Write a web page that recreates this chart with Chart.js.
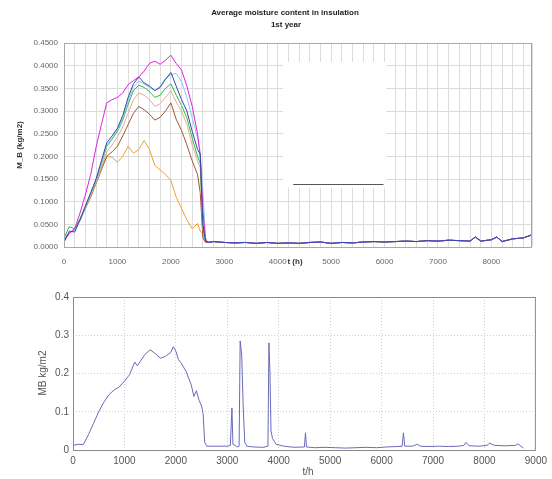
<!DOCTYPE html>
<html>
<head>
<meta charset="utf-8">
<script src="https://cdn.jsdelivr.net/npm/chart.js@4"></script>
<style>
  body { margin: 0; background: #fff; }
  #top { position: absolute; left: 0; top: 0; }
  #bottom { position: absolute; left: 0; top: 270px; }
</style>
</head>
<body>
<canvas id="top" width="552" height="270"></canvas>
<canvas id="bottom" width="552" height="209"></canvas>
<script>
// ---- top chart: hours of the wet period, then the dry tail
const riseHours = [0, 100, 200, 300, 400, 500, 600, 700, 800, 900, 1000, 1100, 1200, 1300, 1400, 1500,
  1600, 1700, 1800, 1900, 2000, 2100, 2200, 2300, 2400, 2500, 2550, 2600, 2650, 2700];

const magenta = [0.015, 0.03, 0.04, 0.075, 0.115, 0.16, 0.22, 0.27, 0.318, 0.325, 0.33, 0.34, 0.358, 0.367, 0.375, 0.388,
  0.405, 0.41, 0.403, 0.412, 0.423, 0.405, 0.39, 0.355, 0.31, 0.25, 0.2, 0.08, 0.015, 0.011];
const blue = [0.01, 0.035, 0.033, 0.06, 0.09, 0.12, 0.15, 0.19, 0.23, 0.245, 0.262, 0.29, 0.33, 0.36, 0.375, 0.362,
  0.355, 0.345, 0.352, 0.37, 0.385, 0.355, 0.325, 0.3, 0.255, 0.215, 0.205, 0.05, 0.012, 0.01];
const cyan = [0.012, 0.032, 0.036, 0.058, 0.088, 0.118, 0.148, 0.185, 0.225, 0.24, 0.258, 0.285, 0.322, 0.352, 0.366, 0.36,
  0.352, 0.345, 0.355, 0.372, 0.38, 0.383, 0.365, 0.33, 0.285, 0.24, 0.21, 0.12, 0.02, 0.01];
const green = [0.02, 0.045, 0.04, 0.062, 0.09, 0.118, 0.148, 0.183, 0.222, 0.238, 0.255, 0.28, 0.315, 0.345, 0.357, 0.352,
  0.343, 0.33, 0.335, 0.35, 0.36, 0.335, 0.312, 0.285, 0.24, 0.2, 0.185, 0.045, 0.012, 0.01];
const salmon = [0.015, 0.03, 0.04, 0.06, 0.087, 0.113, 0.142, 0.175, 0.21, 0.225, 0.243, 0.265, 0.295, 0.325, 0.34, 0.335,
  0.325, 0.31, 0.316, 0.33, 0.345, 0.32, 0.3, 0.27, 0.225, 0.19, 0.175, 0.04, 0.012, 0.01];
const brown = [0.015, 0.03, 0.04, 0.058, 0.085, 0.11, 0.14, 0.17, 0.2, 0.21, 0.222, 0.245, 0.27, 0.295, 0.31, 0.303,
  0.293, 0.28, 0.286, 0.3, 0.318, 0.282, 0.257, 0.225, 0.19, 0.16, 0.12, 0.02, 0.01, 0.01];
const orange = [0.022, 0.03, 0.042, 0.06, 0.088, 0.115, 0.145, 0.175, 0.2, 0.198, 0.187, 0.2, 0.222, 0.207, 0.215, 0.235,
  0.215, 0.18, 0.17, 0.16, 0.147, 0.11, 0.085, 0.06, 0.04, 0.052, 0.035, 0.03, 0.012, 0.01];

const tailHours = [2800, 3000, 3200, 3400, 3600, 3800, 4000, 4200, 4400, 4600, 4800, 5000, 5200, 5400, 5600, 5800,
  6000, 6200, 6400, 6600, 6800, 7000, 7200, 7400, 7600, 7700, 7800, 8000, 8100, 8200, 8400, 8600, 8760];
const tailValues = [0.012, 0.01, 0.009, 0.01, 0.008, 0.01, 0.008, 0.009, 0.008, 0.01, 0.011, 0.008, 0.01, 0.009, 0.011, 0.012,
  0.011, 0.012, 0.013, 0.012, 0.014, 0.013, 0.015, 0.014, 0.013, 0.022, 0.013, 0.016, 0.022, 0.012, 0.018, 0.02, 0.027];

const topXLabels = [0, 1000, 2000, 3000, 4000, 5000, 6000, 7000, 8000];
const topYTicks = [0, 0.05, 0.1, 0.15, 0.2, 0.25, 0.3, 0.35, 0.4, 0.45];

// ---- bottom chart
const lowHours = [0, 100, 200, 300, 400, 500, 600, 700, 800, 900,
  1000, 1100, 1200, 1250, 1300, 1400, 1500, 1600, 1700, 1800,
  1900, 1950, 2000, 2050, 2100, 2200, 2300, 2350, 2400, 2450,
  2500, 2530, 2560, 2600, 2800, 3000, 3060, 3090, 3110, 3200,
  3230, 3250, 3280, 3310, 3340, 3380, 3500, 3700, 3790, 3810,
  3830, 3850, 3880, 3950, 4100, 4300, 4500, 4520, 4540, 4700,
  4900, 5100, 5300, 5500, 5700, 5900, 6100, 6300, 6400, 6425,
  6450, 6600, 6700, 6750, 6900, 7100, 7300, 7500, 7600, 7640,
  7700, 7900, 8050, 8100, 8200, 8400, 8600, 8650, 8760];
const lowValues = [0.012, 0.015, 0.014, 0.04, 0.07, 0.1, 0.125, 0.145, 0.157, 0.165,
  0.18, 0.197, 0.23, 0.22, 0.23, 0.25, 0.262, 0.252, 0.24, 0.245,
  0.255, 0.27, 0.258, 0.236, 0.228, 0.205, 0.17, 0.14, 0.155, 0.13,
  0.115, 0.095, 0.02, 0.01, 0.01, 0.01, 0.012, 0.11, 0.015, 0.008,
  0.01, 0.285, 0.25, 0.11, 0.02, 0.01, 0.008, 0.007, 0.01, 0.28,
  0.2, 0.05, 0.03, 0.015, 0.01, 0.007, 0.008, 0.045, 0.008, 0.006,
  0.007, 0.006, 0.005, 0.006, 0.007, 0.006, 0.008, 0.009, 0.01, 0.045,
  0.01, 0.01, 0.015, 0.01, 0.009, 0.01, 0.009, 0.01, 0.012, 0.02,
  0.011, 0.01, 0.012, 0.018, 0.012, 0.011, 0.012, 0.016, 0.005];

const lowXTicks = [0, 1000, 2000, 3000, 4000, 5000, 6000, 7000, 8000, 9000];
const lowYTicks = [0, 0.1, 0.2, 0.3, 0.4];

function pts(xs, ys) { return ys.map((v, i) => ({ x: xs[i], y: v })); }
function series(vals) { return pts(riseHours, vals).concat(pts(tailHours, tailValues)); }

// light vertical grid every 200 h on the top panel, labels only on the thousands
const topXGrid = [];
for (let h = 0; h <= 8600; h += 200) topXGrid.push(h);
topXGrid.push(8760);

// box round the plot, plus the free texts of each panel
const boxPlugin = {
  id: 'box',
  afterDraw(chart, args, opts) {
    const { ctx, chartArea: a } = chart;
    ctx.save();
    ctx.strokeStyle = opts.color;
    ctx.lineWidth = 1;
    ctx.strokeRect(a.left + 0.5, a.top + 0.5, a.right - a.left - 1, a.bottom - a.top);
    (opts.texts || []).forEach(t => {
      ctx.save();
      ctx.font = t.font;
      ctx.fillStyle = t.color;
      ctx.textAlign = 'center';
      ctx.textBaseline = 'middle';
      ctx.translate(t.x, t.y);
      if (t.rot) ctx.rotate(t.rot);
      ctx.fillText(t.text, 0, 0);
      ctx.restore();
    });
    ctx.restore();
  }
};

// blanked legend area on the top panel
const blankPlugin = {
  id: 'blank',
  afterDatasetsDraw(chart) {
    const { ctx, scales: { x, y } } = chart;
    ctx.save();
    ctx.fillStyle = '#fff';
    const x0 = x.getPixelForValue(4100), x1 = x.getPixelForValue(6030);
    const y0 = y.getPixelForValue(0.408), y1 = y.getPixelForValue(0.131);
    ctx.fillRect(x0, y0, x1 - x0, y1 - y0);
    ctx.strokeStyle = '#555';
    ctx.beginPath();
    const ly = Math.round(y.getPixelForValue(0.139)) + 0.5;
    ctx.moveTo(x.getPixelForValue(4290), ly);
    ctx.lineTo(x.getPixelForValue(5980), ly);
    ctx.stroke();
    ctx.restore();
  }
};

// first dataset is drawn on top, so the dark blue goes first
const topSets = [
  ['#3048a8', blue], ['#e020e0', magenta], ['#88c8ee', cyan], ['#28c040', green],
  ['#e8a898', salmon], ['#a0582e', brown], ['#f0a030', orange]
].map(([c, v]) => ({
  data: series(v), borderColor: c, borderWidth: 1, pointRadius: 0, fill: false, tension: 0
}));

new Chart(document.getElementById('top'), {
  type: 'line',
  data: { datasets: topSets },
  options: {
    responsive: false,
    animation: false,
    layout: { padding: { top: 43, right: 20, left: 0, bottom: 0 } },
    plugins: {
      legend: { display: false },
      tooltip: { enabled: false },
      box: {
        color: '#a8a8a8',
        texts: [
          { text: 'Average moisture content in insulation', x: 285, y: 13, font: 'bold 8px "Liberation Sans", Arial', color: '#222' },
          { text: '1st year', x: 286, y: 25, font: 'bold 8px "Liberation Sans", Arial', color: '#222' },
          { text: 'M_B (kg/m2)', x: 20, y: 145, rot: -Math.PI / 2, font: 'bold 8px "Liberation Sans", Arial', color: '#333' },
          { text: 't (h)', x: 295, y: 262, font: 'bold 8px "Liberation Sans", Arial', color: '#333' }
        ]
      }
    },
    scales: {
      x: {
        type: 'linear', min: 0, max: 8760,
        afterFit: s => { s.height = 23; },
        afterBuildTicks: s => { s.ticks = topXGrid.map(v => ({ value: v })); },
        grid: { color: '#dcdcdc', drawTicks: false },
        border: { display: false },
        ticks: {
          autoSkip: false, maxRotation: 0, padding: 10,
          color: '#666', font: { size: 8, family: '"Liberation Sans", Arial' },
          callback: v => (topXLabels.includes(Math.round(v)) ? String(Math.round(v)) : '')
        }
      },
      y: {
        min: 0, max: 0.45,
        afterFit: s => { s.width = 64; },
        afterBuildTicks: s => { s.ticks = topYTicks.map(v => ({ value: v })); },
        grid: { color: '#dcdcdc', drawTicks: false },
        border: { display: false },
        ticks: {
          padding: 6, color: '#666', font: { size: 8, family: '"Liberation Sans", Arial' },
          callback: v => v.toFixed(4)
        }
      }
    }
  },
  plugins: [blankPlugin, boxPlugin]
});

new Chart(document.getElementById('bottom'), {
  type: 'line',
  data: {
    datasets: [{
      data: pts(lowHours, lowValues), borderColor: '#6a6ab8', borderWidth: 1, pointRadius: 0, fill: false, tension: 0
    }]
  },
  options: {
    responsive: false,
    animation: false,
    layout: { padding: { top: 27, right: 9, left: 0, bottom: 0 } },
    plugins: {
      legend: { display: false },
      tooltip: { enabled: false },
      box: {
        color: '#8a8a8a',
        texts: [
          { text: 'MB kg/m2', x: 43, y: 103, rot: -Math.PI / 2, font: '10px "Liberation Sans", Arial', color: '#555' },
          { text: 't/h', x: 308, y: 202, font: '10px "Liberation Sans", Arial', color: '#555' }
        ]
      }
    },
    scales: {
      x: {
        type: 'linear', min: 0, max: 9000,
        afterFit: s => { s.height = 29; },
        afterBuildTicks: s => { s.ticks = lowXTicks.map(v => ({ value: v })); },
        grid: { color: '#cfcfcf', drawTicks: false },
        border: { display: false, dash: [1, 2] },
        ticks: {
          autoSkip: false, maxRotation: 0, padding: 5,
          color: '#555', font: { size: 10, family: '"Liberation Sans", Arial' },
          callback: v => String(Math.round(v))
        }
      },
      y: {
        min: 0, max: 0.4,
        afterFit: s => { s.width = 73; },
        afterBuildTicks: s => { s.ticks = lowYTicks.map(v => ({ value: v })); },
        grid: { color: '#cfcfcf', drawTicks: false },
        border: { display: false, dash: [1, 2] },
        ticks: {
          padding: 4, color: '#555', font: { size: 10, family: '"Liberation Sans", Arial' },
          callback: v => (v === 0 ? '0' : String(Math.round(v * 10) / 10))
        }
      }
    }
  },
  plugins: [boxPlugin]
});
</script>
</body>
</html>
